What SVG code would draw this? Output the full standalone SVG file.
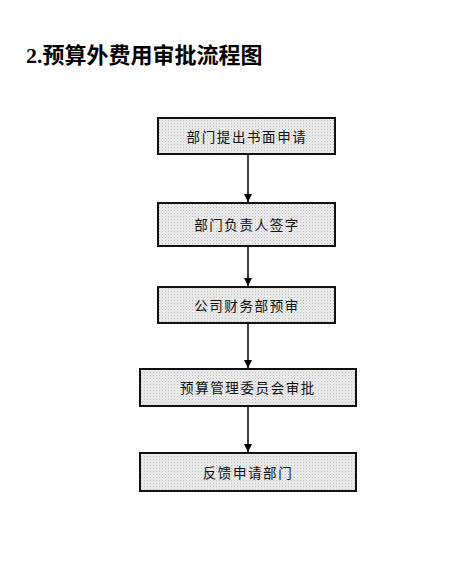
<svg xmlns="http://www.w3.org/2000/svg" width="456" height="572" viewBox="0 0 456 572">
<defs>
<pattern id="stip" width="3" height="3" patternUnits="userSpaceOnUse">
<rect width="3" height="3" fill="#ececec"/>
<rect width="1" height="1" fill="#bdbdbd"/>
<rect x="1.5" y="1.5" width="1" height="1" fill="#d4d4d4"/>
</pattern>
<marker id="arr" markerWidth="8" markerHeight="10" refX="8" refY="4" orient="auto" markerUnits="userSpaceOnUse">
<path d="M0,0 L8,4 L0,8 Z" fill="#000"/>
</marker>
<style>
.box{fill:url(#stip);stroke:#111;stroke-width:2}
.lbl{font-family:"Noto Sans CJK SC",sans-serif;font-size:13.5px;letter-spacing:1.6px;fill:#111;text-anchor:middle;dominant-baseline:central}
.con{stroke:#000;stroke-width:1.5;fill:none;marker-end:url(#arr)}
</style>
</defs>
<rect width="456" height="572" fill="#fff"/>
<text x="26" y="63" font-family="'Liberation Serif','Noto Sans CJK SC',serif" font-weight="bold" font-size="22" fill="#000">2.预算外费用审批流程图</text>
<g id="connectors">
<line class="con" x1="248" y1="154" x2="248" y2="202"/>
<line class="con" x1="248" y1="246" x2="248" y2="286"/>
<line class="con" x1="248" y1="323" x2="248" y2="368"/>
<line class="con" x1="248" y1="406" x2="248" y2="452"/>
</g>
<g id="n1"><rect class="box" x="158" y="118" width="177" height="36"/><text class="lbl" x="247" y="136">部门提出书面申请</text></g>
<g id="n2"><rect class="box" x="158" y="203" width="177" height="43"/><text class="lbl" x="247" y="224">部门负责人签字</text></g>
<g id="n3"><rect class="box" x="158" y="287" width="177" height="36"/><text class="lbl" x="247" y="305">公司财务部预审</text></g>
<g id="n4"><rect class="box" x="140" y="369" width="216" height="37"/><text class="lbl" x="248" y="387">预算管理委员会审批</text></g>
<g id="n5"><rect class="box" x="140" y="453" width="216" height="38"/><text class="lbl" x="248" y="472">反馈申请部门</text></g>
</svg>
